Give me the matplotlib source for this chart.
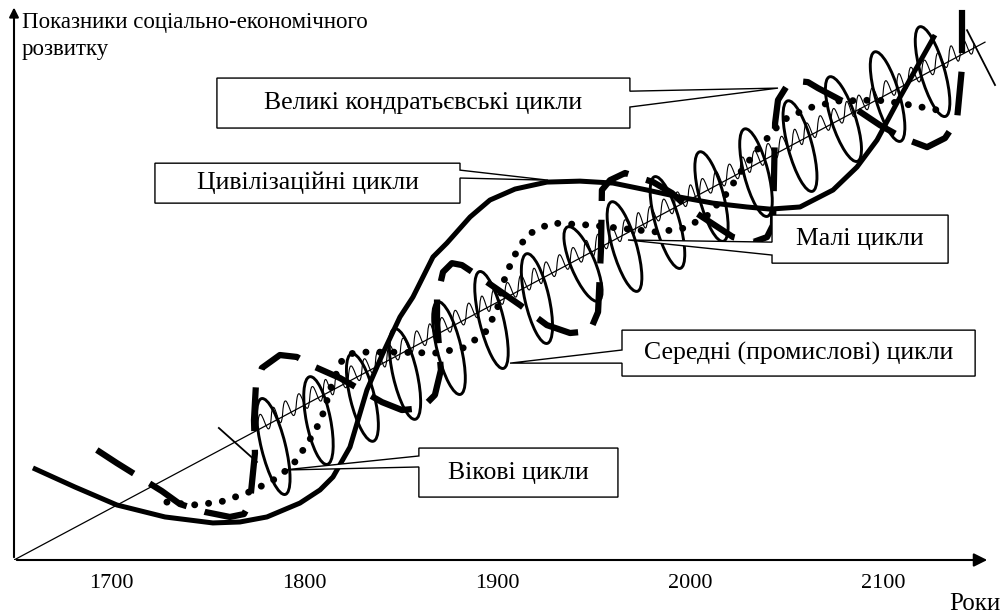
import numpy as np
import matplotlib.pyplot as plt
from matplotlib.patches import Ellipse, Polygon, PathPatch
from matplotlib.path import Path

plt.rcParams['font.family'] = ['Liberation Serif', 'DejaVu Serif']

# лінія тренду (рік, рівень показника)
trend_years = [1649.8, 2152.7]
trend_level = [0.0, 268.3]

# цивілізаційні цикли
civ_years = [1659.6, 1681.4, 1703.1, 1728.0, 1752.8, 1766.8, 1780.8, 1797.9, 1808.3,
             1815.0, 1823.8, 1832.6, 1840.9, 1849.7, 1856.4, 1866.8, 1874.0, 1886.0,
             1896.3, 1909.3, 1925.8, 1942.9, 1960.0, 1977.6, 1994.7, 2011.8, 2029.4,
             2041.4, 2056.9, 2074.0, 2086.4, 2096.8, 2108.7, 2126.8]
civ_level = [47.7, 37.8, 28.5, 22.3, 19.2, 19.7, 22.3, 29.5, 36.3,
             43.0, 58.5, 88.1, 107.2, 125.9, 136.2, 157.0, 164.2, 177.7,
             186.5, 192.2, 195.8, 196.3, 195.3, 191.7, 188.0, 184.9, 182.9,
             181.8, 182.9, 191.7, 203.6, 217.6, 239.8, 272.0]

# вікові цикли
sec_years = [1729.0, 1742.5, 1756.5, 1770.4, 1783.4, 1793.8, 1802.0, 1808.8, 1814.5,
             1820.2, 1826.4, 1847.1, 1867.8, 1882.3, 1893.7, 1900.0, 1903.1, 1908.2,
             1915.5, 1927.9, 1948.6, 1962.6, 1983.3, 1997.3, 2009.2, 2019.1, 2025.8,
             2034.6, 2048.1, 2061.0, 2076.1, 2096.8, 2108.7, 2131.0]
sec_level = [30.0, 28.5, 30.0, 34.7, 40.9, 48.7, 60.6, 72.5, 91.2,
             104.6, 107.7, 107.7, 107.2, 109.8, 117.6, 129.5, 143.5, 156.4,
             168.4, 174.6, 173.5, 172.0, 169.9, 172.0, 178.7, 190.1, 200.5,
             212.4, 227.9, 234.1, 237.8, 238.3, 236.7, 232.6]

# великі кондратьєвські цикли
kon_years = [1692.7, 1703.1, 1726.4, 1735.7, 1748.7, 1761.6, 1768.9, 1772.0, 1774.6,
             1774.1, 1775.1, 1778.2, 1787.5, 1796.3, 1805.7, 1818.6, 1840.4, 1850.7,
             1861.1, 1867.8, 1870.9, 1868.9, 1868.9, 1872.0, 1876.6, 1881.8, 1889.6,
             1911.9, 1925.8, 1937.8, 1948.1, 1952.3, 1953.8, 1954.3, 1958.5, 1966.3,
             1980.8, 1990.6, 1998.4, 2022.2, 2032.6, 2039.8, 2042.9, 2043.4, 2044.0,
             2045.5, 2049.7, 2055.9, 2061.0, 2066.2, 2082.8, 2098.3, 2110.3, 2122.7,
             2132.0, 2138.2, 2140.8, 2140.8]
kon_level = [57.0, 50.2, 35.7, 29.0, 24.9, 22.3, 23.8, 29.5, 55.4,
             72.5, 90.7, 99.5, 106.2, 105.2, 100.0, 94.3, 81.8, 77.7,
             78.7, 85.5, 98.4, 123.3, 135.7, 149.2, 153.8, 152.8, 147.6,
             132.1, 121.7, 117.6, 118.6, 128.5, 160.6, 191.7, 196.8, 200.5,
             195.8, 190.1, 182.9, 167.3, 164.7, 167.3, 173.5, 196.8, 226.4,
             238.3, 245.0, 248.1, 247.6, 244.5, 235.7, 225.3, 218.6, 213.9,
             218.6, 227.9, 255.4, 285.0]

# середні (промислові) цикли: верх і низ кожної петлі
mid_top_years = [1778.2, 1803.1, 1824.8, 1847.1, 1869.4, 1891.1, 1915.5, 1936.7,
                 1959.5, 1981.8, 2005.1, 2028.4, 2050.7, 2072.4, 2095.8, 2119.1]
mid_top_level = [82.9, 94.3, 106.2, 119.1, 133.1, 148.7, 158.0, 172.0,
                 184.9, 197.9, 210.8, 222.7, 237.2, 249.7, 262.6, 275.6]
mid_bot_years = [1790.1, 1811.9, 1835.7, 1857.5, 1880.8, 1903.1, 1925.8, 1952.3,
                 1972.5, 1994.7, 2017.0, 2039.8, 2063.1, 2086.4, 2108.7, 2132.0]
mid_bot_level = [34.7, 50.2, 62.2, 73.6, 86.5, 100.0, 112.9, 134.7,
                 139.9, 151.8, 165.8, 178.7, 191.7, 207.2, 217.6, 230.5]
mid_lead_years = [[1755.9, 1775.6], [2143.4, 2157.9]]
mid_lead_level = [[68.4, 50.8], [274.5, 246.1]]

# малі цикли: межі окремих коливань на лінії тренду
small_years = [1776, 1783, 1789, 1796, 1803, 1810, 1816, 1823, 1830, 1837, 1843, 1850,
               1857, 1864, 1870, 1877, 1884, 1891, 1897, 1904, 1911, 1918, 1924, 1931,
               1938, 1945, 1951, 1958, 1965, 1972, 1978, 1985, 1992, 1999, 2005, 2012,
               2019, 2026, 2032, 2039, 2046, 2053, 2059, 2066, 2073, 2080, 2086, 2093,
               2100, 2107, 2113, 2120, 2127, 2134, 2140, 2147]

year_ticks = [1700, 1800, 1900, 2000, 2100]

# підписи-виноски: текст, рамка (x0, x1, y0, y1), сторона, основа виноски, вістря
callouts = [
    ("Великі кондратьєвські цикли", (1754.9, 1968.8, 223.8, 249.7), "right", (242.9, 234.7), (2045.5, 244.5)),
    ("Цивілізаційні цикли", (1722.8, 1880.8, 184.9, 205.6), "right", (202.0, 197.9), (1926.4, 196.8)),
    ("Малі цикли", (2042.4, 2133.6, 153.8, 178.7), "left", (164.7, 158.0), (1967.8, 165.8)),
    ("Середні (промислові) цикли", (1964.7, 2147.6, 95.3, 119.1), "left", (108.8, 102.0), (1906.7, 102.0)),
    ("Вікові цикли", (1859.5, 1962.6, 32.6, 58.0), "left", (53.9, 48.2), (1789.1, 46.6)),
]

fig = plt.figure(figsize=(10.07, 6.14), dpi=100)
ax = fig.add_axes([14 / 1007, 54 / 614, 976 / 1007, 552 / 614])
ax.set_xlim(1649.8, 2155.3)
ax.set_ylim(0, 286)
for s in ax.spines.values():
    s.set_visible(False)

ax.plot(trend_years, trend_level, color='black', lw=0.9, zorder=2)

# малі цикли - тонка хвиля вздовж тренду (кубічні криві Безьє)
trend_at = lambda yr: np.interp(yr, trend_years, trend_level)
verts, codes = [], []
for i, (a, b) in enumerate(zip(small_years[:-1], small_years[1:])):
    ya, yb = trend_at(a) + 2.5, trend_at(b) + 2.5
    h = 18.0
    if i == 0:
        verts.append((a, ya))
        codes.append(Path.MOVETO)
    verts += [(a + (b - a) * 0.2, ya + h), (a + (b - a) * 0.8, yb - h), (b, yb)]
    codes += [Path.CURVE4] * 3
ax.add_patch(PathPatch(Path(verts, codes), fill=False, ec='black', lw=0.8, zorder=3))

for tx, ty, bx, by in zip(mid_top_years, mid_top_level, mid_bot_years, mid_bot_level):
    length = np.hypot(tx - bx, ty - by)
    ang = np.degrees(np.arctan2(bx - tx, ty - by))
    ax.add_patch(Ellipse(((tx + bx) / 2, (ty + by) / 2), width=12.5, height=length * 1.03,
                         angle=ang, fill=False, ec='black', lw=2.1, zorder=4))
for xs, ys in zip(mid_lead_years, mid_lead_level):
    ax.plot(xs, ys, color='black', lw=1.3, zorder=4, clip_on=False)

ax.plot(sec_years, sec_level, color='black', lw=5, linestyle=(0, (0.01, 2.0)),
        dash_capstyle='round', zorder=5)
ax.plot(civ_years, civ_level, color='black', lw=3.6, solid_joinstyle='round',
        solid_capstyle='butt', zorder=6)
ax.plot(kon_years, kon_level, color='black', lw=4.5, linestyle=(0, (7, 3)),
        dash_joinstyle='round', zorder=6, clip_on=False)

# рамки з виносками
for text, (x0, x1, y0, y1), side, (wa, wb), tip in callouts:
    if side == "right":
        pts = [(x0, y1), (x1, y1), (x1, wa), tip, (x1, wb), (x1, y0), (x0, y0)]
    else:
        pts = [(x0, y1), (x1, y1), (x1, y0), (x0, y0), (x0, wb), tip, (x0, wa)]
    ax.add_patch(Polygon(pts, closed=True, fc='white', ec='black', lw=1.0, zorder=10))
    ax.text((x0 + x1) / 2, (y0 + y1) / 2, text, ha='center', va='center',
            fontsize=18.5, zorder=11)

# осі зі стрілками
ax.annotate('', xy=(1.0, 0), xytext=(0, 0), xycoords='axes fraction',
            arrowprops=dict(arrowstyle='-|>', lw=1.5, color='black', mutation_scale=20),
            annotation_clip=False)
ax.annotate('', xy=(0, 1.006), xytext=(0, 0), xycoords='axes fraction',
            arrowprops=dict(arrowstyle='-|>', lw=1.5, color='black', mutation_scale=14),
            annotation_clip=False)

ax.set_xticks(year_ticks)
ax.set_xticklabels([str(y) for y in year_ticks])
ax.tick_params(axis='x', length=0, labelsize=16, pad=10)
ax.set_yticks([])

fig.text(22 / 1007, 1 - 28 / 614, "Показники соціально-економічного",
         ha='left', va='baseline', fontsize=16.5)
fig.text(22 / 1007, 1 - 55 / 614, "розвитку", ha='left', va='baseline', fontsize=16.5)
fig.text(1000 / 1007, 4 / 614, "Роки", ha='right', va='baseline', fontsize=18)

fig.savefig('out.png', dpi=100)
